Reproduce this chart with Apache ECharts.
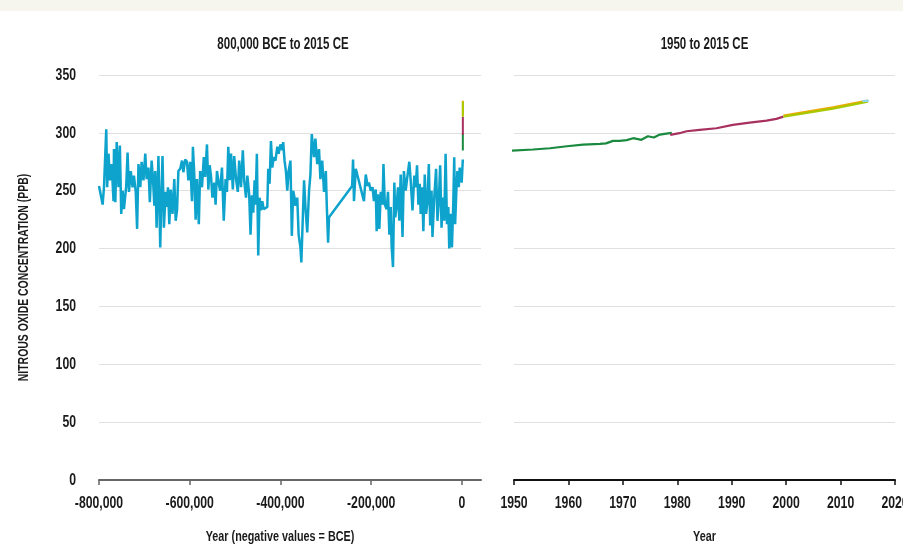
<!DOCTYPE html>
<html>
<head>
<meta charset="utf-8">
<script src="https://cdn.jsdelivr.net/npm/echarts@6/dist/echarts.min.js"></script>
<style>
  html, body { margin: 0; padding: 0; background: #ffffff; }
  #chart { width: 903px; height: 548px; }
</style>
</head>
<body>
<div id="chart"></div>
<script>
// ---- Data ----
// Ice-core record: years in thousands (negative = BCE), values in ppb
const iceKyr = [
  -800,-792,-789,-784,-782,-779,-776,-772,-768,-767,
  -764,-761,-757,-754,-751,-748,-745,-740,-737,-734,
  -730,-726,-723,-719,-716,-713,-709,-706,-702,-698,
  -695,-691,-688,-684,-681,-678,-676,-673,-669,-665,
  -663,-660,-657,-653,-650,-648,-645,-642,-638,-634,
  -631,-628,-625,-621,-617,-614,-610,-606,-603,-599,
  -595,-593,-590,-587,-584,-580,-577,-573,-569,-566,
  -562,-559,-556,-553,-550,-546,-543,-540,-536,-533,
  -529,-525,-521,-518,-515,-512,-509,-505,-502,-498,
  -494,-491,-487,-483,-480,-476,-473,-469,-466,-463,
  -460,-457,-455,-452,-449,-446,-443,-440,-437,-433,
  -429,-427,-424,-421,-418,-415,-411,-407,-404,-400,
  -396,-394,-391,-388,-385,-382,-378,-375,-372,-369,
  -367,-363,-360,-356,-354,-351,-348,-345,-341,-337,
  -334,-331,-328,-326,-323,-319,-315,-312,-308,-304,
  -300,-298,-295,-293,-242,-240,-238,-234,-216,-212,
  -208,-205,-201,-197,-194,-190,-188,-185,-182,-179,
  -175,-173,-170,-166,-163,-160,-157,-155,-152,-149,
  -147,-144,-141,-138,-135,-131,-128,-124,-121,-119,
  -116,-113,-109,-105,-102,-99,-96,-93,-91,-88,
  -85,-82,-79,-76,-73,-70,-67,-65,-61,-57,
  -54,-51,-48,-45,-42,-39,-36,-33,-30,-28,
  -25,-22,-19,-17,-15,-12,-10,-7,-5,-2,
  -1.2,-0.6,1.9
];
const iceN2O = [
  254,238,253,303,253,282,259,273,241,286,
  240,292,253,289,230,250,234,254,283,249,
  267,253,263,249,217,273,253,275,259,282,
  260,270,240,276,260,237,267,218,280,201,
  238,280,218,249,236,253,221,251,230,260,
  224,233,267,269,276,266,277,275,259,275,
  241,288,264,225,260,221,267,253,279,262,
  290,251,272,262,244,257,238,267,256,250,
  270,224,260,249,288,259,282,251,280,260,
  249,276,253,285,259,244,263,247,212,246,
  231,259,238,282,194,244,233,241,234,234,
  236,269,256,293,270,279,276,288,282,290,
  285,292,276,267,250,267,276,211,250,244,
  237,244,212,201,188,224,259,236,214,250,
  264,299,300,279,295,273,286,260,276,249,
  267,238,205,227,254,277,241,269,241,264,
  254,257,250,253,241,251,215,247,217,249,
  238,273,238,234,249,212,236,202,184,257,
  227,236,253,224,264,210,267,250,260,266,
  275,259,233,263,253,272,238,256,230,253,
  215,264,230,241,273,220,250,210,244,269,
  224,241,272,218,244,224,282,221,236,200,
  230,201,241,279,221,253,267,253,270,259,
  269,257,277
];

// Modern records (CE years)
const greenYears = [1949.5,1953.5,1956.6,1959.7,1962.7,1965.8,1966.9,1968.2,1969.4,1970.7,1971.9,1973.4,1974.6,1975.7,1976.8,1978,1979];
const greenN2O   = [284.7,285.6,286.7,288.4,289.9,290.5,290.9,293.1,293.1,293.7,295.4,294.0,297.1,296.0,298.5,299.4,300.0];
const redYears   = [1978.7,1980.4,1981.7,1984.1,1987.2,1990.2,1993.3,1996.4,1998.2,1999.5];
const redN2O     = [298.3,299.7,301.4,302.6,304.0,306.9,308.9,310.6,312.1,314.0];
const orangeYears = [1999.5,2008.6,2015];
const orangeN2O   = [315.0,322.0,327.8];
const limeYears   = [1999.5,2008.6,2015];
const limeN2O     = [314.0,321.0,327.0];
const skyYears    = [2014,2015.2];
const skyN2O      = [327.4,327.9];

// Axis ticks and labels
const yTicks     = [0,50,100,150,200,250,300,350];
const leftTicks  = [-800000,-600000,-400000,-200000,0];
const rightTicks = [1950,1960,1970,1980,1990,2000,2010,2020];
const titles = ['800,000 BCE to 2015 CE', '1950 to 2015 CE'];
const xNames = ['Year (negative values = BCE)', 'Year'];
const yName  = 'NITROUS OXIDE CONCENTRATION (PPB)';

// ---- Build ----
const FONT = '"Liberation Sans", Arial, sans-serif';
const SX = 0.72;
const zip = (xs, ys, k) => xs.map((x, i) => [x * (k || 1), ys[i]]);

const modern = [
  { data: zip(greenYears, greenN2O),   color: '#1a8a3e' },
  { data: zip(redYears, redN2O),       color: '#a8305f' },
  { data: zip(orangeYears, orangeN2O), color: '#f0a800' },
  { data: zip(limeYears, limeN2O),     color: '#a8c800' },
  { data: zip(skyYears, skyN2O),       color: '#8fd6ef' }
];

const series = [{
  type: 'line', xAxisIndex: 0, yAxisIndex: 0, symbol: 'none',
  data: zip(iceKyr, iceN2O, 1000),
  lineStyle: { color: '#0ea3cc', width: 2.5 }, z: 2
}];
modern.forEach((m, i) => {
  series.push({ type: 'line', xAxisIndex: 0, yAxisIndex: 0, symbol: 'none', data: m.data,
    lineStyle: { color: m.color, width: 2 }, z: 3 + i });
  series.push({ type: 'line', xAxisIndex: 1, yAxisIndex: 1, symbol: 'none', data: m.data,
    lineStyle: { color: m.color, width: 2.2 }, z: 3 + i });
});

const chart = echarts.init(document.getElementById('chart'), null, { renderer: 'canvas' });
chart.setOption({
  animation: false,
  backgroundColor: '#ffffff',
  grid: [
    { left: 99, right: 422, top: 75, bottom: 68 },
    { left: 514, right: 8, top: 75, bottom: 68 }
  ],
  xAxis: [
    {
      type: 'value', gridIndex: 0, min: -800000, max: 42000,
      axisLine: { show: true, lineStyle: { color: '#666', width: 2 } },
      axisTick: { show: true, length: 5, customValues: leftTicks, lineStyle: { color: '#666', width: 1.5 } },
      axisLabel: { show: false },
      splitLine: { show: false }
    },
    {
      type: 'value', gridIndex: 1, min: 1950, max: 2020, interval: 10,
      axisLine: { show: true, lineStyle: { color: '#111', width: 2 } },
      axisTick: { show: true, length: 5, lineStyle: { color: '#111', width: 1.5 } },
      axisLabel: { show: false },
      splitLine: { show: false }
    }
  ],
  yAxis: [
    {
      type: 'value', gridIndex: 0, min: 0, max: 350, interval: 50,
      axisLine: { show: false }, axisTick: { show: false }, axisLabel: { show: false },
      splitLine: { show: true, lineStyle: { color: '#e0e0e0', width: 1 } }
    },
    {
      type: 'value', gridIndex: 1, min: 0, max: 350, interval: 50,
      axisLine: { show: false }, axisTick: { show: false }, axisLabel: { show: false },
      splitLine: { show: true, lineStyle: { color: '#e0e0e0', width: 1 } }
    }
  ],
  series: series
});

// Condensed text drawn through the chart's own scales (convertToPixel)
function txt(text, x, y, size, align, extra) {
  return Object.assign({
    type: 'text', x: x, y: y, scaleX: SX, silent: true,
    style: { text: text, align: align, verticalAlign: 'middle',
      font: 'bold ' + size + 'px ' + FONT, fill: '#1a1a1a' }
  }, extra || {});
}
const g = [
  { type: 'rect', shape: { x: 0, y: 0, width: 903, height: 11 }, style: { fill: '#f6f6ef' }, silent: true }
];
const p0 = v => chart.convertToPixel({ gridIndex: 0 }, v);
const p1 = v => chart.convertToPixel({ gridIndex: 1 }, v);

const leftX0 = p0([-800000, 0])[0], leftX1 = p0([42000, 0])[0];
const rightX0 = p1([1950, 0])[0], rightX1 = p1([2020, 0])[0];
const yBase = p0([0, 0])[1], yTop = p0([0, 350])[1];

yTicks.forEach(v => {
  const pt = p0([-800000, v]);
  g.push(txt(String(v), pt[0] - 23, pt[1], 17, 'right'));
});
leftTicks.forEach(v => {
  const pt = p0([v, 0]);
  g.push(txt(v.toLocaleString('en-US'), pt[0], pt[1] + 23, 17, 'center'));
});
rightTicks.forEach(v => {
  const pt = p1([v, 0]);
  g.push(txt(String(v), pt[0], pt[1] + 23, 17, 'center'));
});
g.push(txt(titles[0], (leftX0 + leftX1) / 2 - 7, 45, 16, 'center'));
g.push(txt(titles[1], (rightX0 + rightX1) / 2, 45, 16, 'center'));
g.push(txt(xNames[0], (leftX0 + leftX1) / 2 - 10, yBase + 57, 15, 'center'));
g.push(txt(xNames[1], (rightX0 + rightX1) / 2, yBase + 57, 15, 'center'));
g.push(txt(yName, 24, (yBase + yTop) / 2, 14.5, 'center', { rotation: Math.PI / 2 }));

chart.setOption({ graphic: g });
</script>
</body>
</html>
